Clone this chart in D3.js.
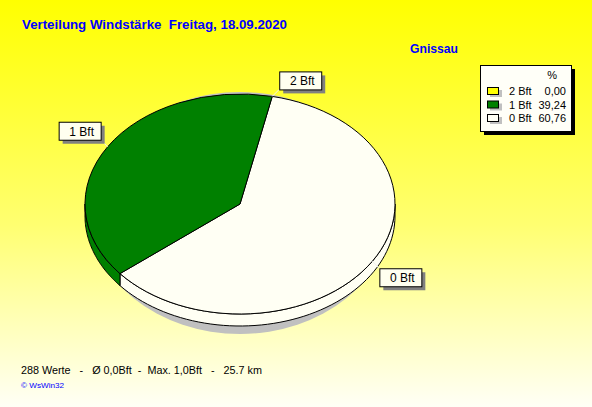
<!DOCTYPE html>
<html><head><meta charset="utf-8">
<script src="https://cdn.jsdelivr.net/npm/d3@7"></script>
<style>html,body{margin:0;padding:0;overflow:hidden}svg{display:block}</style>
</head><body>
<script>
const categories = ["2 Bft", "1 Bft", "0 Bft"];
const percents = [0.00, 39.24, 60.76];
const percentLabels = ["0,00", "39,24", "60,76"];
const colors = ["#FFFF00", "#008000", "#FFFFF4"];
const titleText = "Verteilung Windstärke  Freitag, 18.09.2020";
const stationText = "Gnissau";
const footerText = "288 Werte   -   Ø 0,0Bft  -  Max. 1,0Bft   -   25.7 km";
const creditText = "© WsWin32";

const W = 592, H = 407;
const svg = d3.select("body").append("svg").attr("width", W).attr("height", H)
  .style("font-family", "'Liberation Sans', Arial, sans-serif");
const defs = svg.append("defs");
const grad = defs.append("linearGradient").attr("id", "bg").attr("x1", 0).attr("y1", 0).attr("x2", 0).attr("y2", 1);
grad.append("stop").attr("offset", "0%").attr("stop-color", "#FFFF00");
grad.append("stop").attr("offset", "55%").attr("stop-color", "#FFFF70");
grad.append("stop").attr("offset", "100%").attr("stop-color", "#FFFFF6");
svg.append("rect").attr("width", W).attr("height", H).attr("fill", "url(#bg)");

// Title
svg.append("text").attr("x", 22).attr("y", 29).text(titleText)
  .style("white-space", "pre")
  .attr("fill", "#0000FF").attr("font-weight", "bold").attr("font-size", 13)
  .attr("textLength", 265).attr("lengthAdjust", "spacingAndGlyphs");
svg.append("text").attr("x", 410).attr("y", 53).text(stationText)
  .attr("fill", "#0000FF").attr("font-weight", "bold").attr("font-size", 13)
  .attr("textLength", 48).attr("lengthAdjust", "spacingAndGlyphs");

// Pie geometry
const cx = 240, cy = 204, rx = 155, ry = 110, depth = 12;
const deg = Math.PI / 180;
const start = 12 * deg;
const order = [2, 1, 0]; // drawn clockwise: 0 Bft, 1 Bft, 2 Bft
const pie = d3.pie().sort(null).value(i => percents[i]).startAngle(start).endAngle(start + 2 * Math.PI);
const arcsData = pie(order);
const pt = (a, dy = 0) => [cx + rx * Math.sin(a), cy - ry * Math.cos(a) + dy];

// shadow
svg.append("ellipse").attr("cx", cx).attr("cy", cy + 9).attr("rx", rx - 5).attr("ry", ry + 11).attr("fill", "#C0C0C0");

// sides
const sideG = svg.append("g");
arcsData.forEach(d => {
  const s = Math.max(d.startAngle, 90 * deg), e = Math.min(d.endAngle, 270 * deg);
  if (e <= s) return;
  const n = 60;
  const top = d3.range(n + 1).map(k => pt(s + (e - s) * k / n));
  const bot = d3.range(n + 1).map(k => pt(e - (e - s) * k / n, depth));
  sideG.append("path").attr("d", d3.line()(top.concat(bot)) + "Z")
    .attr("fill", colors[d.data]).attr("stroke", "#000").attr("stroke-width", 1);
});

// top face
const arc = d3.arc().innerRadius(0).outerRadius(rx);
const topG = svg.append("g").attr("transform", `translate(${cx},${cy}) scale(1,${ry / rx})`);
arcsData.forEach(d => {
  if (d.endAngle - d.startAngle <= 0) return;
  topG.append("path").attr("d", arc(d)).attr("fill", colors[d.data])
    .attr("stroke", "#000").attr("stroke-width", 1).attr("vector-effect", "non-scaling-stroke");
});

// labels
const bw = 42, bh = 18;
arcsData.forEach(d => {
  const m = (d.startAngle + d.endAngle) / 2;
  const p = pt(m);
  const sx = Math.sin(m) >= 0 ? 1 : -1, sy = Math.cos(m) >= 0 ? -1 : 1;
  const qx = p[0] + sx * 7, qy = p[1] + sy * 7;
  const bx = sx > 0 ? qx : qx - bw;
  const by = sy > 0 ? qy : qy - bh;
  svg.append("line").attr("x1", p[0]).attr("y1", p[1]).attr("x2", qx).attr("y2", qy)
    .attr("stroke", "#F0F0F0").attr("stroke-width", 1);
  svg.append("rect").attr("x", bx + 4).attr("y", by + 4).attr("width", bw).attr("height", bh).attr("fill", "#808080");
  svg.append("rect").attr("x", bx + 0.5).attr("y", by + 0.5).attr("width", bw).attr("height", bh)
    .attr("fill", "#FFFFF0").attr("stroke", "#000");
  svg.append("text").attr("x", bx + bw / 2 + 2).attr("y", by + 14).attr("text-anchor", "middle")
    .attr("font-size", 12).attr("fill", "#000").text(categories[d.data]);
});

// legend
const lx = 480, ly = 65, lw = 91, lh = 66;
svg.append("rect").attr("x", lx + 4).attr("y", ly + 4).attr("width", lw).attr("height", lh).attr("fill", "#000");
svg.append("rect").attr("x", lx + 0.5).attr("y", ly + 0.5).attr("width", lw).attr("height", lh)
  .attr("fill", "#FFFFF8").attr("stroke", "#000");
svg.append("text").attr("x", 557).attr("y", 79).attr("text-anchor", "end").attr("font-size", 11).text("%");
const rowY = d3.scalePoint().domain(categories).range([91, 118]);
categories.forEach((c, i) => {
  const y = rowY(c);
  svg.append("rect").attr("x", 490).attr("y", y - 1).attr("width", 12).attr("height", 7).attr("fill", "#C0C0C0");
  svg.append("rect").attr("x", 487.5).attr("y", y - 3.5).attr("width", 11).attr("height", 7)
    .attr("fill", colors[i]).attr("stroke", "#000");
  svg.append("text").attr("x", 509).attr("y", y + 4).attr("font-size", 11).text(c);
  svg.append("text").attr("x", 566).attr("y", y + 4).attr("font-size", 11).attr("text-anchor", "end").text(percentLabels[i]);
});

// footer
svg.append("text").attr("x", 21).attr("y", 374).attr("font-size", 11).attr("fill", "#000")
  .style("white-space", "pre").text(footerText)
  .attr("textLength", 241).attr("lengthAdjust", "spacingAndGlyphs");
svg.append("text").attr("x", 21).attr("y", 388).attr("font-size", 8).attr("fill", "#0000FF").text(creditText)
  .attr("textLength", 43).attr("lengthAdjust", "spacingAndGlyphs");
</script>
</body></html>
